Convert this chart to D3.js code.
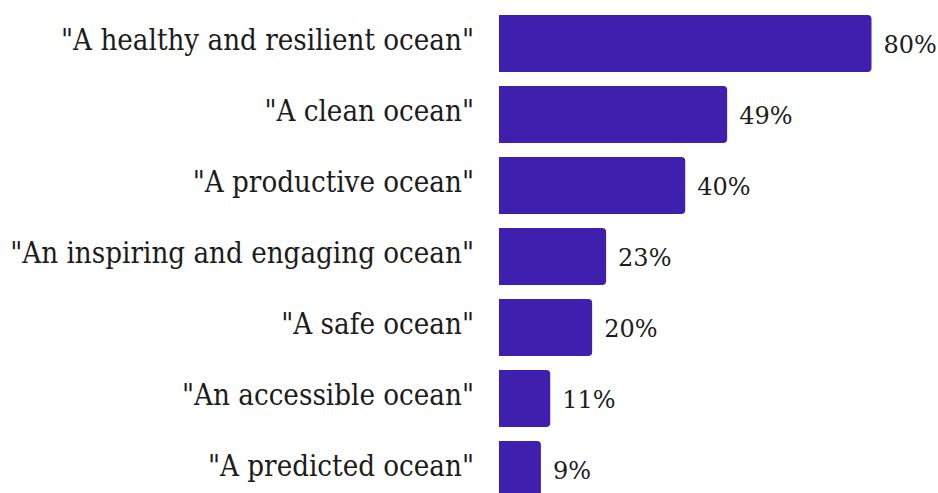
<!DOCTYPE html>
<html>
<head>
<meta charset="utf-8">
<script src="https://cdn.jsdelivr.net/npm/d3@7"></script>
<style>
  body { margin: 0; background: #fff; }
  text { font-family: "DejaVu Serif", serif; fill: #1c1c1c; }
  .cat-label { font-family: "DejaVu Serif Condensed", "DejaVu Serif", serif; font-stretch: condensed; }
</style>
</head>
<body>
<div id="chart"></div>
<script>
// data
const categories = [
    '"A healthy and resilient ocean"',
    '"A clean ocean"',
    '"A productive ocean"',
    '"An inspiring and engaging ocean"',
    '"A safe ocean"',
    '"An accessible ocean"',
    '"A predicted ocean"'
];
const values = [80, 49, 40, 23, 20, 11, 9];

const width = 938, height = 493;
const barLeft = 499;

let svg = d3.select("#chart").append("svg")
    .attr("width", width)
    .attr("height", height);

let x = d3.scaleLinear()
    .domain([0, 80])
    .range([barLeft, 871.5]);

let y = d3.scaleBand()
    .domain(categories)
    .range([15 - 7, 15 - 7 + 71 * 7])
    .paddingInner(14 / 71)
    .paddingOuter(7 / 71);

// bars with rounded right end only
function barPath(x0, x1, y0, h, r) {
    r = Math.min(r, (x1 - x0) / 2);
    return `M${x0},${y0}H${x1 - r}Q${x1},${y0} ${x1},${y0 + r}V${y0 + h - r}Q${x1},${y0 + h} ${x1 - r},${y0 + h}H${x0}Z`;
}

let data = categories.map((c, i) => ({cat: c, val: values[i]}));

svg.selectAll(".bar")
    .data(data)
    .enter().append("path")
    .attr("class", "bar")
    .attr("fill", "#3f20ae")
    .attr("d", d => barPath(x(0), x(d.val), y(d.cat), y.bandwidth(), 4));

svg.selectAll(".cat-label")
    .data(data)
    .enter().append("text")
    .attr("class", "cat-label")
    .attr("x", barLeft - 25)
    .attr("y", d => y(d.cat) + y.bandwidth() / 2)
    .attr("dy", "0.23em")
    .attr("text-anchor", "end")
    .style("font-size", "29.2px")
    .text(d => d.cat);

svg.selectAll(".val-label")
    .data(data)
    .enter().append("text")
    .attr("class", "val-label")
    .attr("x", d => x(d.val) + 12)
    .attr("y", d => y(d.cat) + y.bandwidth() / 2)
    .attr("dy", "0.38em")
    .style("font-size", "24px")
    .text(d => d.val + "%");
</script>
</body>
</html>
